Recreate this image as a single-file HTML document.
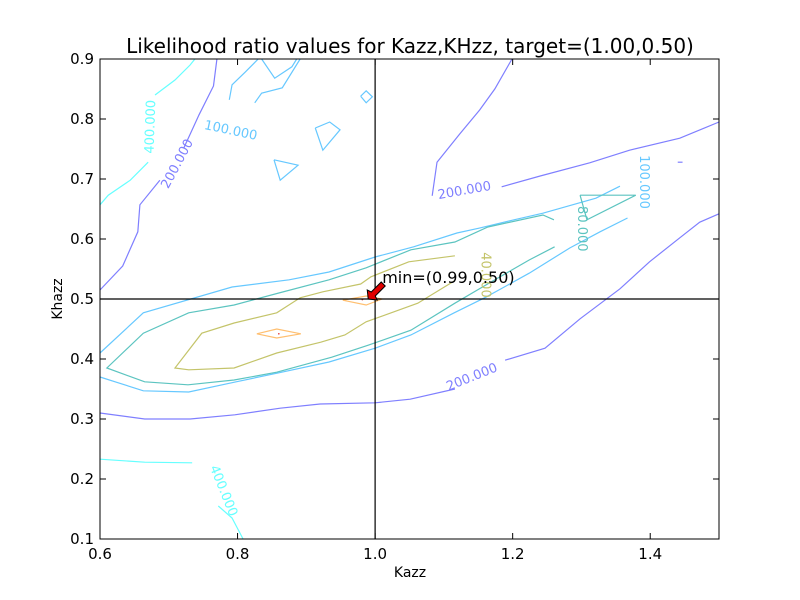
<!DOCTYPE html>
<html><head><meta charset="utf-8"><style>
body{margin:0;background:#fff;}
svg{display:block;font-family:"DejaVu Sans","Liberation Sans",sans-serif;}
</style></head><body>
<svg id="chart" width="800" height="600" viewBox="0 0 800 600">
<rect width="800" height="600" fill="#fff"/>
<g id="contours"></g>
<g id="axes"></g>
</svg>
<script>
const xTicks=[0.6,0.8,1.0,1.2,1.4];
const yTicks=[0.1,0.2,0.3,0.4,0.5,0.6,0.7,0.8,0.9];
const xMin=0.6,xMax=1.5,yMin=0.1,yMax=0.9;
const minPoint=[0.99,0.50];
const target=[1.0,0.5];
const c200=[
 [[0.6,0.31],[0.665,0.30],[0.731,0.30],[0.796,0.307],[0.862,0.318],[0.92,0.325],[1.0,0.327],[1.051,0.333],[1.116,0.35]],
 [[1.189,0.398],[1.247,0.418],[1.298,0.467],[1.356,0.517],[1.399,0.562],[1.443,0.602],[1.472,0.628],[1.5,0.642]],
 [[0.6,0.515],[0.633,0.555],[0.655,0.612],[0.658,0.657],[0.687,0.698]],
 [[0.722,0.752],[0.744,0.807],[0.765,0.855],[0.77,0.9]],
 [[1.083,0.672],[1.09,0.728],[1.123,0.775],[1.152,0.815],[1.174,0.85],[1.199,0.9]],
 [[1.184,0.687],[1.24,0.705],[1.312,0.727],[1.37,0.748],[1.443,0.768],[1.5,0.795]],
 [[1.44,0.728],[1.447,0.728]]
];
const c400=[
 [[0.6,0.657],[0.612,0.673],[0.644,0.698],[0.67,0.728]],
 [[0.68,0.84],[0.709,0.865],[0.731,0.89],[0.738,0.9]],
 [[0.6,0.233],[0.665,0.228],[0.734,0.227]],
 [[0.772,0.155],[0.792,0.135],[0.808,0.1]]
];
const c100=[
 [[0.6,0.41],[0.663,0.477],[0.792,0.52],[0.875,0.532],[0.933,0.545],[1.0,0.57],[1.056,0.587],[1.119,0.61],[1.151,0.618],[1.202,0.632],[1.244,0.643],[1.321,0.668],[1.356,0.688]],
 [[0.6,0.37],[0.663,0.347],[0.729,0.345],[0.798,0.362],[0.86,0.377],[0.933,0.395],[1.0,0.418],[1.052,0.44],[1.115,0.477],[1.161,0.503],[1.224,0.543],[1.283,0.585],[1.327,0.612],[1.367,0.635]],
 [[0.788,0.832],[0.792,0.857],[0.811,0.878],[0.83,0.9]],
 [[0.825,0.827],[0.835,0.843],[0.865,0.852],[0.891,0.9]],
 [[0.835,0.9],[0.854,0.868],[0.879,0.887],[0.886,0.9]],
 [[0.979,0.838],[0.987,0.847],[0.996,0.837],[0.987,0.827],[0.979,0.838]],
 [[0.913,0.785],[0.934,0.795],[0.949,0.782],[0.924,0.748],[0.913,0.785]],
 [[0.853,0.732],[0.888,0.723],[0.862,0.698],[0.853,0.732]]
];
const c80=[
 [[1.261,0.587],[1.224,0.565],[1.171,0.53],[1.116,0.493],[1.052,0.448],[0.99,0.423],[0.937,0.403],[0.857,0.378],[0.795,0.365],[0.728,0.357],[0.665,0.362],[0.61,0.385],[0.663,0.443],[0.729,0.477],[0.795,0.49],[0.86,0.51],[0.933,0.532],[0.987,0.552],[1.052,0.582],[1.116,0.595],[1.164,0.62],[1.244,0.64],[1.26,0.632]],
 [[1.298,0.673],[1.379,0.673],[1.308,0.632],[1.298,0.673]]
];
const c40=[
 [[1.115,0.53],[1.062,0.493],[0.987,0.462],[0.956,0.44],[0.921,0.428],[0.857,0.41],[0.795,0.385],[0.729,0.382],[0.709,0.385],[0.748,0.443],[0.795,0.46],[0.857,0.477],[0.891,0.502],[0.924,0.512],[0.979,0.525],[0.994,0.537],[1.049,0.562],[1.116,0.572]]
];
const c20=[
 [[0.828,0.442],[0.857,0.45],[0.892,0.442],[0.857,0.435],[0.828,0.442]],
 [[0.953,0.498],[0.987,0.505],[1.01,0.5],[0.987,0.49],[0.953,0.498]]
];
const levels=[
 {name:'400',data:c400,color:'#66ffff'},
 {name:'200',data:c200,color:'#7f7fff'},
 {name:'100',data:c100,color:'#66c8ff'},
 {name:'80',data:c80,color:'#5cc4c0'},
 {name:'40',data:c40,color:'#c4c46a'},
 {name:'20',data:c20,color:'#ffbf70'}
];
const labelsData=[
 {t:'200.000',x:0.713,y:0.725,r:-62,c:'#7f7fff'},
 {t:'200.000',x:1.141,y:0.369,r:-22,c:'#7f7fff'},
 {t:'200.000',x:1.13,y:0.68,r:-10,c:'#7f7fff'},
 {t:'400.000',x:0.674,y:0.787,r:-88,c:'#66ffff'},
 {t:'400.000',x:0.779,y:0.18,r:68,c:'#66ffff'},
 {t:'100.000',x:0.79,y:0.78,r:12,c:'#66c8ff'},
 {t:'100.000',x:1.39,y:0.695,r:90,c:'#66c8ff'},
 {t:'80.000',x:1.3,y:0.617,r:90,c:'#5cc4c0'},
 {t:'40.000',x:1.16,y:0.54,r:90,c:'#c4c46a'}
];
const L=100,R=719,T=59,B=539;
const sx=v=>L+(v-xMin)/(xMax-xMin)*(R-L);
const sy=v=>B-(v-yMin)/(yMax-yMin)*(B-T);
const NS='http://www.w3.org/2000/svg';
const cg=document.getElementById('contours');
const ag=document.getElementById('axes');
function mk(tag,attrs,parent){const e=document.createElementNS(NS,tag);for(const k in attrs)e.setAttribute(k,attrs[k]);parent.appendChild(e);return e;}
levels.forEach(lv=>{
 lv.data.forEach((seg,i)=>{
  const p=mk('polyline',{points:seg.map(q=>sx(q[0])+','+sy(q[1])).join(' '),fill:'none',stroke:lv.color,'stroke-width':1.2},cg);
  
  
 });
});
labelsData.forEach(l=>{
 const t=mk('text',{x:sx(l.x),y:sy(l.y),fill:l.c,'font-size':13,'text-anchor':'middle','dominant-baseline':'middle',transform:`rotate(${l.r} ${sx(l.x)} ${sy(l.y)})`},cg);
 t.textContent=l.t;
 
 
});
c20.forEach(seg=>{
 const cx=(seg[0][0]+seg[2][0])/2, cy=(seg[0][1]+seg[2][1])/2;
 const d=mk('circle',{cx:sx(cx),cy:sy(cy),r:0.8,fill:'#e03030'},cg);
 
 
});
const vl=mk('line',{x1:sx(target[0]),x2:sx(target[0]),y1:T,y2:B,stroke:'#000','stroke-width':1.2},ag);


const hl=mk('line',{x1:L,x2:R,y1:sy(target[1]),y2:sy(target[1]),stroke:'#000','stroke-width':1.2},ag);


const ax=sx(minPoint[0]),ay=sy(minPoint[1]);
const arr=mk('polygon',{points:`${ax},${ay} ${ax-1},${ay-9} ${ax+3},${ay-7} ${ax+13},${ay-17} ${ax+17},${ay-13} ${ax+7},${ay-3} ${ax+9},${ay+1}`,fill:'#e00000',stroke:'#000','stroke-width':1},ag);


const at=mk('text',{x:ax+14,y:ay-16,'font-size':16,fill:'#000'},ag);
at.textContent='min=('+minPoint[0].toFixed(2)+','+minPoint[1].toFixed(2)+')';


const fr=mk('rect',{x:L,y:T,width:R-L,height:B-T,fill:'none',stroke:'#000','stroke-width':1},ag);


xTicks.forEach(v=>{
 const x=sx(v);
 const t1=mk('line',{x1:x,x2:x,y1:B,y2:B-6,stroke:'#000'},ag);
 
 
 const t2=mk('line',{x1:x,x2:x,y1:T,y2:T+6,stroke:'#000'},ag);
 
 
 const lb=mk('text',{x:x,y:B+20,'font-size':15,'text-anchor':'middle',fill:'#000'},ag);
 lb.textContent=v.toFixed(1);
 
 
});
yTicks.forEach(v=>{
 const y=sy(v);
 const t1=mk('line',{x1:L,x2:L+6,y1:y,y2:y,stroke:'#000'},ag);
 
 
 const t2=mk('line',{x1:R,x2:R-6,y1:y,y2:y,stroke:'#000'},ag);
 
 
 const lb=mk('text',{x:L-6,y:y+5,'font-size':15,'text-anchor':'end',fill:'#000'},ag);
 lb.textContent=v.toFixed(1);
 
 
});
const ti=mk('text',{x:410,y:53,'font-size':20,'text-anchor':'middle',fill:'#000'},ag);
ti.textContent='Likelihood ratio values for Kazz,KHzz, target=(1.00,0.50)';


const xl=mk('text',{x:410,y:577,'font-size':14,'text-anchor':'middle',fill:'#000'},ag);
xl.textContent='Kazz';


const yl=mk('text',{x:62,y:299,'font-size':14,'text-anchor':'middle',fill:'#000',transform:'rotate(-90 62 299)'},ag);
yl.textContent='Khazz';


</script>
</body></html>
